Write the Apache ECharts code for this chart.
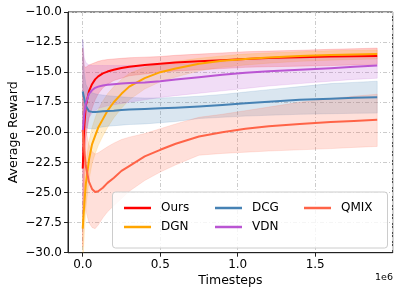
<!DOCTYPE html>
<html>
<head>
<meta charset="utf-8">
<script src="https://cdn.jsdelivr.net/npm/echarts@6/dist/echarts.min.js"></script>
<style>html,body{margin:0;padding:0;background:#fff;}#c{width:399px;height:294px;}</style>
</head>
<body>
<div id="c"></div>
<script>
var timesteps = [0, 10000, 20000, 40000, 60000, 80000, 100000, 130000, 160000, 200000, 250000, 300000, 400000, 500000, 600000, 750000, 900000, 1050000, 1200000, 1400000, 1600000, 1750000, 1900000];

var oursMean  = [-23, -19.5, -17.8, -16.6, -16.0, -15.6, -15.35, -15.1, -14.95, -14.8, -14.65, -14.55, -14.4, -14.3, -14.2, -14.1, -14.0, -13.9, -13.82, -13.75, -13.7, -13.67, -13.65];
var oursUpper = [-13, -14.5, -14.6, -14.4, -14.3, -14.2, -14.1, -14.0, -13.95, -13.9, -13.85, -13.8, -13.75, -13.7, -13.6, -13.5, -13.4, -13.3, -13.25, -13.18, -13.1, -13.05, -13.0];
var oursLower = [-29.5, -24, -20.5, -18.8, -18.0, -17.3, -16.8, -16.3, -16.0, -15.7, -15.5, -15.3, -15.15, -15.0, -14.9, -14.8, -14.7, -14.6, -14.55, -14.5, -14.45, -14.4, -14.35];

var dgnMean  = [-28, -26, -24.3, -22.3, -21.0, -20.3, -19.6, -18.9, -18.2, -17.5, -16.8, -16.2, -15.5, -15.0, -14.7, -14.3, -14.05, -13.9, -13.78, -13.66, -13.58, -13.53, -13.5];
var dgnUpper = [-26, -24, -22.5, -20.8, -19.6, -18.8, -18.1, -17.4, -16.8, -16.2, -15.6, -15.1, -14.6, -14.3, -14.1, -13.85, -13.65, -13.5, -13.4, -13.3, -13.22, -13.18, -13.15];
var dgnLower = [-31, -28.5, -26.3, -24.0, -22.6, -21.8, -21.1, -20.3, -19.6, -18.8, -18.0, -17.3, -16.4, -15.8, -15.4, -14.9, -14.6, -14.4, -14.25, -14.1, -14.0, -13.95, -13.9];

var dcgMean  = [-16.6, -17.2, -17.8, -18.25, -18.3, -18.3, -18.28, -18.25, -18.22, -18.2, -18.15, -18.1, -18.05, -18.0, -17.95, -17.85, -17.72, -17.58, -17.45, -17.3, -17.2, -17.12, -17.08];
var dcgUpper = [-12.3, -15.0, -16.0, -16.5, -16.7, -16.8, -16.85, -16.9, -16.95, -17.0, -17.05, -17.1, -17.15, -17.15, -17.1, -17.0, -16.85, -16.65, -16.45, -16.2, -15.95, -15.85, -15.75];
var dcgLower = [-20, -19.5, -19.6, -19.7, -19.7, -19.7, -19.6, -19.55, -19.5, -19.45, -19.4, -19.35, -19.3, -19.2, -19.1, -18.85, -18.75, -18.65, -18.58, -18.5, -18.45, -18.42, -18.4];

var vdnMean  = [-20, -18.5, -17.6, -16.8, -16.5, -16.3, -16.2, -16.1, -16.05, -16.0, -15.95, -15.9, -15.85, -15.75, -15.6, -15.42, -15.22, -15.05, -14.93, -14.8, -14.67, -14.55, -14.45];
var vdnUpper = [-12.3, -13.8, -14.2, -14.4, -14.45, -14.45, -14.45, -14.45, -14.45, -14.45, -14.45, -14.45, -14.45, -14.4, -14.35, -14.25, -14.15, -14.05, -13.95, -13.85, -13.75, -13.7, -13.65];
var vdnLower = [-27, -22, -20, -18.8, -18.4, -18.2, -18.0, -17.9, -17.8, -17.7, -17.6, -17.5, -17.3, -17.1, -16.95, -16.75, -16.55, -16.35, -16.15, -15.95, -15.75, -15.6, -15.5];

var qmixMean  = [-19.8, -21.5, -22.8, -24.1, -24.7, -24.95, -24.9, -24.6, -24.2, -23.8, -23.2, -22.8, -22.0, -21.45, -20.95, -20.35, -20.0, -19.7, -19.5, -19.3, -19.15, -19.05, -18.96];
var qmixUpper = [-17, -18.5, -19.8, -21.0, -21.6, -21.8, -21.7, -21.45, -21.2, -20.9, -20.6, -20.4, -20.1, -19.7, -19.3, -18.75, -18.5, -18.2, -17.9, -17.5, -17.2, -17.0, -16.83];
var qmixLower = [-23, -25, -26.5, -27.5, -27.9, -28.0, -27.7, -27.1, -26.6, -26.1, -25.5, -24.9, -24.0, -23.3, -22.7, -21.9, -21.75, -21.65, -21.55, -21.45, -21.35, -21.25, -21.17];

var seriesNames = ['Ours', 'DGN', 'DCG', 'VDN', 'QMIX'];
var yTicks = [-30, -27.5, -25, -22.5, -20, -17.5, -15, -12.5, -10];

var colors = {Ours: '#ff0000', DGN: '#ffa500', DCG: '#4682b4', VDN: '#ba55d3', QMIX: '#ff6347'};
var bandAlpha = 0.2;
var groups = {
  Ours: [oursMean, oursLower, oursUpper],
  DGN: [dgnMean, dgnLower, dgnUpper],
  DCG: [dcgMean, dcgLower, dcgUpper],
  VDN: [vdnMean, vdnLower, vdnUpper],
  QMIX: [qmixMean, qmixLower, qmixUpper]
};

function hexA(hex, a) {
  var r = parseInt(hex.slice(1,3),16), g = parseInt(hex.slice(3,5),16), b = parseInt(hex.slice(5,7),16);
  return 'rgba(' + r + ',' + g + ',' + b + ',' + a + ')';
}

var FONT = 'DejaVu Sans';
var series = [];
seriesNames.forEach(function (name) {
  var g = groups[name];
  var bandData = timesteps.map(function (t, i) { return [t, g[1][i], g[2][i]]; });
  series.push({
    type: 'custom',
    name: name + ' band',
    data: bandData,
    clip: true,
    silent: true,
    z: 1,
    encode: {x: 0, y: [1, 2]},
    renderItem: function (params, api) {
      if (params.dataIndex !== 0) return null;
      var pts = [];
      for (var i = 0; i < bandData.length; i++) pts.push(api.coord([bandData[i][0], bandData[i][2]]));
      for (var j = bandData.length - 1; j >= 0; j--) pts.push(api.coord([bandData[j][0], bandData[j][1]]));
      return {
        type: 'polygon',
        shape: {points: pts},
        style: {fill: hexA(colors[name], bandAlpha), stroke: hexA(colors[name], 0.25), lineWidth: 0.6}
      };
    }
  });
});
seriesNames.forEach(function (name) {
  var g = groups[name];
  series.push({
    type: 'line',
    name: name,
    data: timesteps.map(function (t, i) { return [t, g[0][i]]; }),
    showSymbol: false,
    smooth: false,
    clip: true,
    z: 3,
    lineStyle: {color: colors[name], width: 2, join: 'round'},
    itemStyle: {color: colors[name]}
  });
});

var legendPos = {
  Ours: [124, 202], DCG: [215, 202], QMIX: [304, 202],
  DGN: [124, 221], VDN: [215, 221]
};
var legends = seriesNames.map(function (name) {
  return {
    data: [{name: name, icon: 'rect'}],
    left: legendPos[name][0], top: legendPos[name][1],
    itemWidth: 27, itemHeight: 2.5,
    padding: 0,
    z: 10,
    selectedMode: false,
    textStyle: {fontFamily: FONT, fontSize: 12, color: '#000', padding: [0, 0, 0, 5]}
  };
});

var chart = echarts.init(document.getElementById('c'), null, {renderer: 'canvas'});
chart.setOption({
  animation: false,
  backgroundColor: '#fff',
  grid: {left: 68, top: 12, right: 6.3, bottom: 41.3, show: true, borderColor: '#222', borderWidth: 1,
    backgroundColor: 'transparent', containLabel: false, outerBoundsMode: 'none'},
  legend: legends,
  xAxis: {
    type: 'value', min: -95000, max: 2000000,
    name: 'Timesteps', nameLocation: 'middle', nameGap: 22, nameMoveOverlap: false,
    nameTextStyle: {fontFamily: FONT, fontSize: 12.5, color: '#000'},
    axisLine: {show: true, onZero: false, lineStyle: {color: '#222', width: 1}},
    axisTick: {show: true, length: 4, lineStyle: {color: '#222'}},
    axisLabel: {fontFamily: FONT, fontSize: 12, color: '#000', margin: 6, showMinLabel: false, showMaxLabel: false,
      formatter: function (v) { return (v / 1e6).toFixed(1); }},
    splitLine: {show: true, lineStyle: {color: '#cccccc', type: [4, 2, 1, 2], width: 1}}
  },
  yAxis: {
    type: 'value', min: -30, max: -10, interval: 2.5,
    name: 'Average Reward', nameLocation: 'middle', nameGap: 48, nameRotate: 90, nameMoveOverlap: false,
    nameTextStyle: {fontFamily: FONT, fontSize: 12.5, color: '#000'},
    axisLine: {show: true, onZero: false, lineStyle: {color: '#222', width: 1}},
    axisTick: {show: true, length: 4, lineStyle: {color: '#222'}},
    axisLabel: {fontFamily: FONT, fontSize: 12, color: '#000', margin: 6,
      formatter: function (v) { return v.toFixed(1).replace('-', '\u2212'); }},
    splitLine: {show: true, lineStyle: {color: '#cccccc', type: [4, 2, 1, 2], width: 1}}
  },
  graphic: [
    {type: 'rect', left: 112, top: 191.5, shape: {width: 275, height: 56, r: 3}, z: 8,
      style: {fill: 'rgba(255,255,255,0.8)', stroke: '#cccccc', lineWidth: 1}},
    {type: 'text', left: 375, top: 273, z: 8, style: {text: '1e6', font: '9.5px "DejaVu Sans"', fill: '#000'}}
  ],
  series: series
});
</script>
</body>
</html>
